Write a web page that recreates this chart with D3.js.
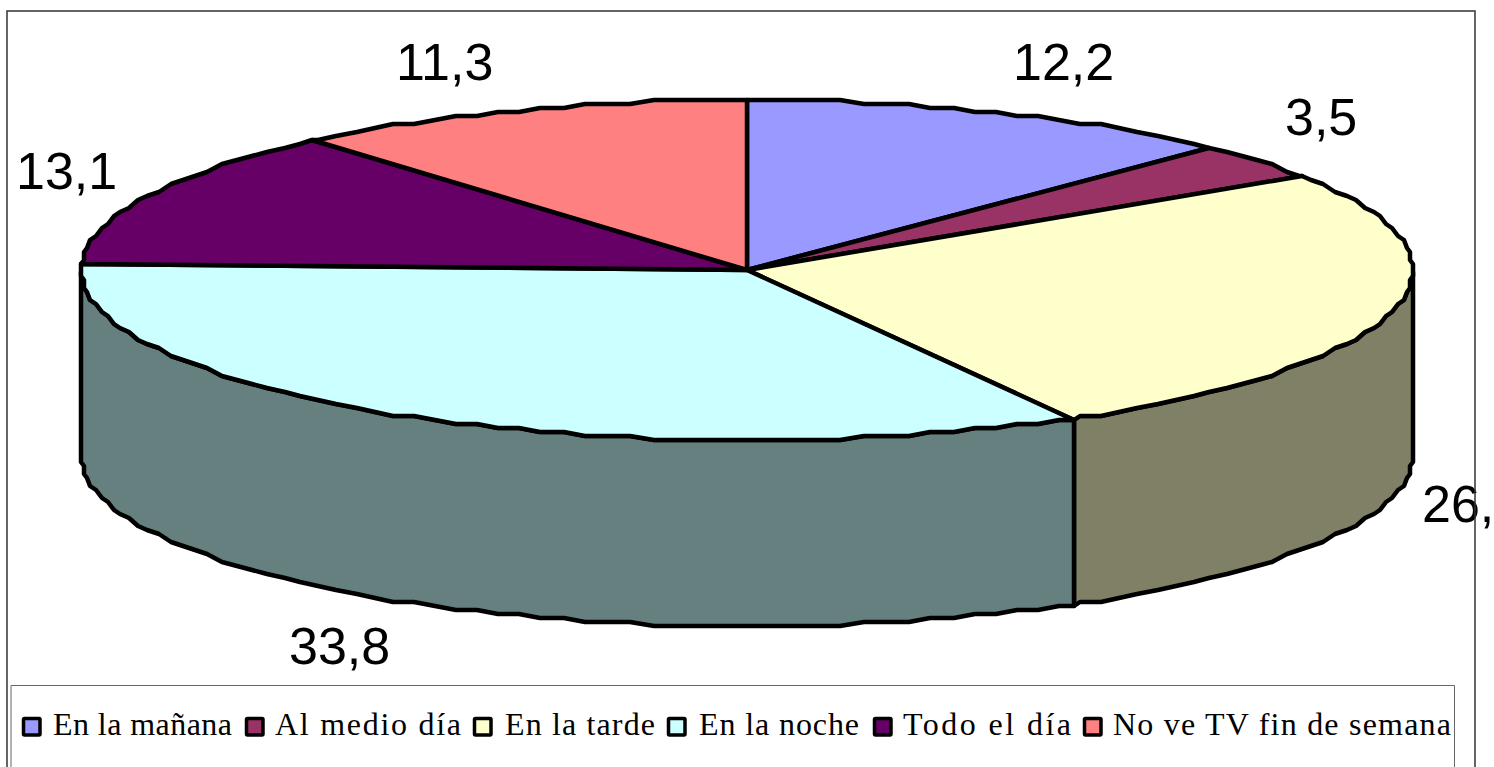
<!DOCTYPE html>
<html>
<head>
<meta charset="utf-8">
<script src="https://cdn.jsdelivr.net/npm/d3@7/dist/d3.min.js"></script>
<style>
html, body { margin: 0; padding: 0; background: #fff; overflow: hidden; }
svg { display: block; }
</style>
</head>
<body>
<svg id="chart" width="1494" height="767"></svg>
<script>
// data (the last digit of 26,x is cut by the page edge, taken from the slice size)
var categories = ["En la mañana", "Al medio día", "En la tarde", "En la noche", "Todo el día", "No ve TV fin de semana"];
var values = [12.2, 3.5, 26.2, 33.8, 13.1, 11.3];
var colors = ["#9999FF", "#993366", "#FFFFCC", "#CCFFFF", "#660066", "#FF8080"];

// layout
var labelPos = [[1013, 80], [1285, 135], [1422, 522], [289, 664], [16, 189], [396, 80]];
var legendPos = [[22, 53, 179], [245, 275, 186], [473, 505, 150], [667, 699, 160], [873, 903, 168], [1083, 1113, 338]];
var depth = 186, gridX = 3, gridY = 4, stepAngle = 2 * Math.PI / 180;

var svg = d3.select("svg#chart");
var x = d3.scaleLinear().domain([-1, 1]).range([81, 1413]);
var y = d3.scaleLinear().domain([-1, 1]).range([100, 440]);

// the original is a low resolution metafile, so the rim snaps to a coarse grid
function snap(v, origin, grid) {
    return origin + Math.round((v - origin) / grid) * grid;
}

// rim points between two angles, on fixed angle steps so wall and top share them
function rim(a0, a1, dy) {
    var lo = Math.min(a0, a1), hi = Math.max(a0, a1);
    var angles = [lo].concat(d3.range(Math.ceil(lo / stepAngle + 0.01), hi / stepAngle).map(function (k) {
        return k * stepAngle;
    }), [hi]);
    if (a0 > a1) angles.reverse();
    return angles.map(function (a) {
        return [snap(x(Math.sin(a)), 81, gridX), snap(y(-Math.cos(a)), 100, gridY) + dy];
    });
}

var line = d3.line().curve(d3.curveLinearClosed);
var pie = d3.pie().sort(null).startAngle(0).endAngle(2 * Math.PI)(values);

// side walls, only the front half of the disc
var g = svg.append("g");
pie.forEach(function (d, i) {
    var a0 = Math.max(d.startAngle, Math.PI / 2), a1 = Math.min(d.endAngle, 3 * Math.PI / 2);
    if (a1 <= a0) return;
    var c = d3.rgb(colors[i]);
    g.append("path")
        .attr("d", line(rim(a0, a1, 0).concat(rim(a1, a0, depth))))
        .attr("fill", d3.rgb(c.r * 0.5, c.g * 0.5, c.b * 0.5))
        .attr("stroke", "#000")
        .attr("stroke-width", 4.5)
        .attr("stroke-linejoin", "round");
});

// top of the disc
g.selectAll("path.top")
    .data(pie)
    .enter().append("path")
    .attr("class", "top")
    .attr("d", function (d) {
        return line([[x(0), y(0)]].concat(rim(d.startAngle, d.endAngle, 0)));
    })
    .attr("fill", function (d, i) { return colors[i]; })
    .attr("stroke", "#000")
    .attr("stroke-width", 4.5)
    .attr("stroke-linejoin", "round");

// data labels
svg.selectAll("text.label")
    .data(values)
    .enter().append("text")
    .attr("class", "label")
    .attr("x", function (d, i) { return labelPos[i][0]; })
    .attr("y", function (d, i) { return labelPos[i][1]; })
    .attr("font-family", "'Liberation Sans', Arial, sans-serif")
    .attr("font-size", 52)
    .attr("fill", "#000")
    .text(function (d) { return String(d).replace(".", ","); });

// chart frame and legend box, both run off the bottom of the page
svg.append("path")
    .attr("d", "M7,767V11H1475V767")
    .attr("fill", "none")
    .attr("stroke", "#333")
    .attr("stroke-width", 1.5);
svg.append("path")
    .attr("d", "M11,767V685.5H1454.5V767")
    .attr("fill", "none")
    .attr("stroke", "#666")
    .attr("stroke-width", 1);

// legend
var legend = svg.selectAll("g.legend")
    .data(categories)
    .enter().append("g")
    .attr("class", "legend");
legend.append("rect")
    .attr("x", function (d, i) { return legendPos[i][0] + 1.5; })
    .attr("y", 718.5)
    .attr("width", 16.5)
    .attr("height", 16.5)
    .attr("rx", 1)
    .attr("fill", function (d, i) { return colors[i]; })
    .attr("stroke", "#000")
    .attr("stroke-width", 3.5);
legend.append("text")
    .attr("x", function (d, i) { return legendPos[i][1]; })
    .attr("y", 735)
    .attr("font-family", "'Liberation Serif', 'Times New Roman', serif")
    .attr("font-size", 32)
    .attr("fill", "#000")
    .attr("textLength", function (d, i) { return legendPos[i][2]; })
    .attr("lengthAdjust", "spacing")
    .text(function (d) { return d; });
</script>
</body>
</html>
